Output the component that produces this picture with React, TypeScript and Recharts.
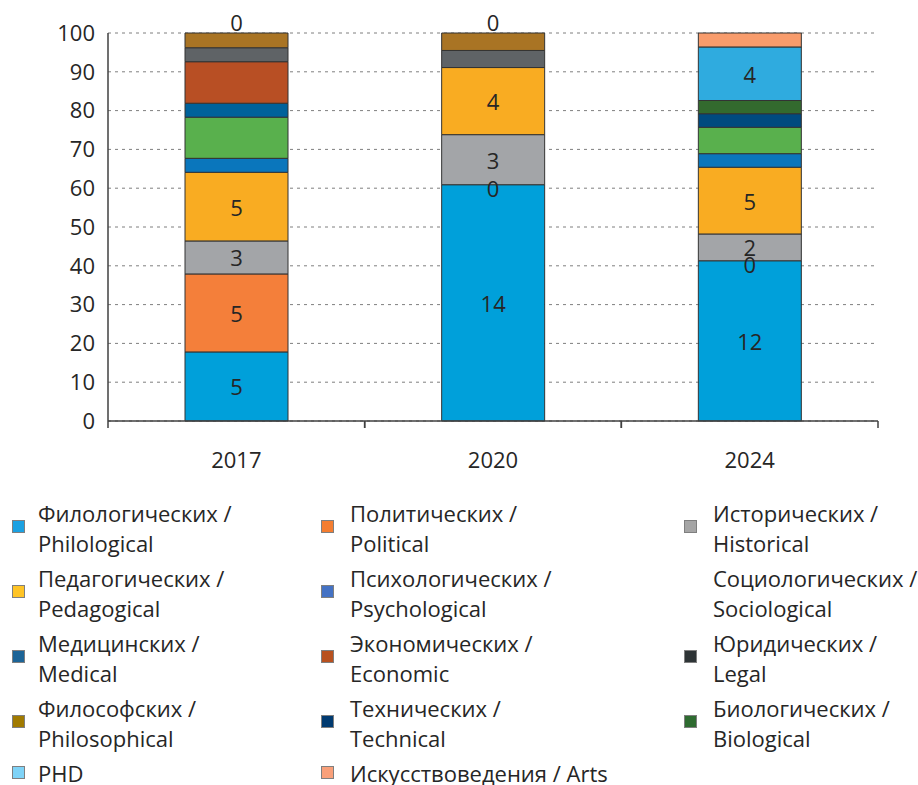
import React from 'react';
import { BarChart, Bar, XAxis, YAxis, CartesianGrid, LabelList } from 'recharts';

const years = ['2017', '2020', '2024'];

// share of each field, % of the year's total
const philological = [17.8, 60.9, 41.3];
const political = [20.1, 0, 0];
const historical = [8.5, 12.9, 6.9];
const pedagogical = [17.7, 17.3, 17.2];
const psychological = [3.6, 0, 3.5];
const sociological = [10.6, 0, 6.8];
const medical = [3.6, 0, 0];
const economic = [10.7, 0, 0];
const legal = [3.6, 4.4, 0];
const philosophical = [3.8, 4.5, 0];
const technical = [0, 0, 3.5];
const biological = [0, 0, 3.4];
const phd = [0, 0, 13.8];
const arts = [0, 0, 3.6];

// counts printed on the segments
const philologicalLabels = ['5', '14', '12'];
const politicalLabels = ['5', '0', '0'];
const historicalLabels = ['3', '3', '2'];
const pedagogicalLabels = ['5', '4', '5'];
const phdLabels = [null, null, '4'];
const artsLabels = ['0', '0', null];

const yTicks = [0, 10, 20, 30, 40, 50, 60, 70, 80, 90, 100];

type Series = {
  key: string;
  ru: string;
  en: string;
  values: number[];
  labels?: (string | null)[];
  color: string;
  swatch: string | null;
};

const series: Series[] = [
  { key: 'philological', ru: 'Филологических /', en: 'Philological', values: philological, labels: philologicalLabels, color: '#00a0da', swatch: '#1ba1e2' },
  { key: 'political', ru: 'Политических /', en: 'Political', values: political, labels: politicalLabels, color: '#f47f3a', swatch: '#f47d30' },
  { key: 'historical', ru: 'Исторических /', en: 'Historical', values: historical, labels: historicalLabels, color: '#a3a5a8', swatch: '#a5a5a5' },
  { key: 'pedagogical', ru: 'Педагогических /', en: 'Pedagogical', values: pedagogical, labels: pedagogicalLabels, color: '#f9ac22', swatch: '#ffc425' },
  { key: 'psychological', ru: 'Психологических /', en: 'Psychological', values: psychological, color: '#0a76bc', swatch: '#4472c4' },
  { key: 'sociological', ru: 'Социологических /', en: 'Sociological', values: sociological, color: '#59b04d', swatch: null },
  { key: 'medical', ru: 'Медицинских /', en: 'Medical', values: medical, color: '#00629b', swatch: '#1c6497' },
  { key: 'economic', ru: 'Экономических /', en: 'Economic', values: economic, color: '#b84f24', swatch: '#b8511f' },
  { key: 'legal', ru: 'Юридических /', en: 'Legal', values: legal, color: '#5f6366', swatch: '#2e3436' },
  { key: 'philosophical', ru: 'Философских /', en: 'Philosophical', values: philosophical, color: '#a97424', swatch: '#a07a00' },
  { key: 'technical', ru: 'Технических /', en: 'Technical', values: technical, color: '#004a7f', swatch: '#003a70' },
  { key: 'biological', ru: 'Биологических /', en: 'Biological', values: biological, color: '#336a2e', swatch: '#2e6b30' },
  { key: 'phd', ru: 'PHD', en: '', values: phd, labels: phdLabels, color: '#2fabdf', swatch: '#7fd3f7' },
  { key: 'arts', ru: 'Искусствоведения / Arts', en: '', values: arts, labels: artsLabels, color: '#f89c6c', swatch: '#f9a07a' },
];

const data = years.map((year, i) => {
  const row: Record<string, string | number> = { year };
  series.forEach((s) => {
    row[s.key] = s.values[i];
  });
  return row;
});

const FONT = '"Open Sans", sans-serif';
const TEXT = '#262626';
const FS = 22;
const PLOT_LEFT = 100;
const PLOT_W = 770;
const BAND = PLOT_W / years.length;

const XTick = (props: any) => {
  const { x, y, payload } = props;
  return (
    <g>
      <line x1={x - BAND / 2} x2={x - BAND / 2} y1={y} y2={y + 7} stroke="#404040" strokeWidth={1.5} />
      <line x1={x + BAND / 2} x2={x + BAND / 2} y1={y} y2={y + 7} stroke="#404040" strokeWidth={1.5} />
      <text x={x} y={y + 47} textAnchor="middle" fill={TEXT} fontSize={FS} fontFamily={FONT}>
        {payload.value}
      </text>
    </g>
  );
};

const labelText = (key: string, x: number, y: number, t: string) => (
  <text key={key} x={x} y={y} textAnchor="middle" dominantBaseline="central" fill={TEXT} fontSize={FS} fontFamily={FONT}>
    {t}
  </text>
);

// zero-height segments are not handed to LabelList, so their labels ride on
// the top edge of the last non-empty segment below them
const makeLabel = (si: number) => (props: any) => {
  const x = Number(props.x);
  const y = Number(props.y);
  const w = Number(props.width);
  const h = Number(props.height) || 0;
  const cx = x + w / 2;
  const cat = Math.min(years.length - 1, Math.max(0, Math.floor((cx - PLOT_LEFT) / BAND)));
  const out: React.ReactNode[] = [];
  const own = series[si].labels?.[cat];
  if (own != null && h > 0) out.push(labelText('own', cx, y + h / 2, own));
  for (let j = si + 1; j < series.length; j++) {
    if (series[j].values[cat] !== 0) break;
    const t = series[j].labels?.[cat];
    if (t == null) continue;
    const onTop = series.slice(j + 1).every((s) => s.values[cat] === 0);
    out.push(labelText('z' + j, cx, onTop ? y - 11 : y + 3, t));
  }
  return <g>{out}</g>;
};

const legendCols = [
  { swatch: 12, text: 38 },
  { swatch: 321, text: 350 },
  { swatch: 684, text: 713 },
];

export default function App() {
  // the legend runs almost to the window edge, so drop the default body margin
  React.useLayoutEffect(() => {
    document.body.style.margin = '0';
  }, []);

  return (
    <div style={{ position: 'relative', width: 918, height: 785, overflow: 'hidden', fontFamily: FONT, color: TEXT }}>
      <div style={{ position: 'absolute', left: 8, top: 8 }}>
        <BarChart width={902} height={470} data={data} margin={{ top: 25, right: 32, left: 40, bottom: 27 }}>
          <CartesianGrid vertical={false} stroke="#7f7f7f" strokeDasharray="3 4" />
          <XAxis
            dataKey="year"
            height={30}
            tickLine={false}
            tickSize={0}
            tickMargin={0}
            tick={<XTick />}
            axisLine={{ stroke: '#404040', strokeWidth: 1.5 }}
          />
          <YAxis
            width={60}
            domain={[0, 100]}
            ticks={yTicks}
            interval={0}
            tickLine={false}
            tickSize={0}
            tickMargin={13}
            axisLine={{ stroke: '#404040', strokeWidth: 1.5 }}
            tick={{ fill: TEXT, fontSize: FS, fontFamily: FONT }}
          />
          {series.map((s, si) => (
            <Bar
              key={s.key}
              dataKey={s.key}
              stackId="a"
              fill={s.color}
              stroke="#333333"
              strokeWidth={1}
              barSize={103}
              isAnimationActive={false}
            >
              <LabelList dataKey={s.key} content={makeLabel(si)} />
            </Bar>
          ))}
        </BarChart>
      </div>

      {series.map((s, i) => {
        const col = legendCols[i % 3];
        const row = Math.floor(i / 3);
        const single = !s.en;
        const top = 498 + row * 65 + (single ? 3 : 0);
        return (
          <div
            key={s.key}
            style={{
              position: 'absolute',
              left: col.swatch,
              top,
              display: 'flex',
              alignItems: 'center',
              fontSize: FS,
              lineHeight: single ? '24px' : '30px',
              whiteSpace: 'nowrap',
            }}
          >
            <div
              style={{
                width: 13,
                height: 13,
                flexShrink: 0,
                marginRight: col.text - col.swatch - 13,
                marginBottom: single ? 1 : 3,
                boxSizing: 'border-box',
                background: s.swatch || 'transparent',
                border: s.swatch ? '1px solid #7f7f7f' : 'none',
              }}
            />
            <div>
              <div>{s.ru}</div>
              {s.en && <div>{s.en}</div>}
            </div>
          </div>
        );
      })}
    </div>
  );
}
